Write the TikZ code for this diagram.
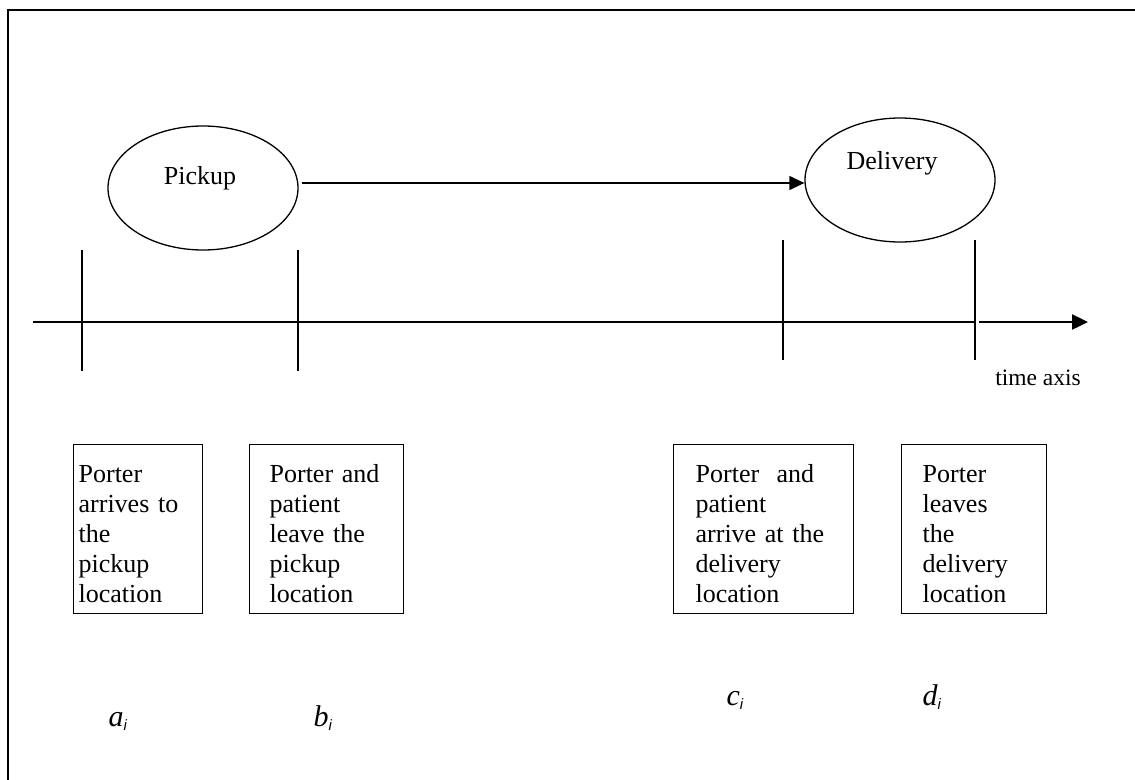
\documentclass[tikz,border=0pt]{standalone}
\usepackage{fontspec}
\setmainfont{Liberation Serif}
\newfontfamily\subfont{Liberation Sans}
\usetikzlibrary{arrows.meta,shapes.geometric}

% subscripted time label, e.g. a_i
\newcommand\eventmark[1]{#1\raisebox{-4pt}{\subfont\itshape\fontsize{15}{15}\selectfont i}}

\begin{document}
\begin{tikzpicture}[x=1pt,y=-1pt,line width=1.3pt,
  evt/.style={ellipse,draw,minimum width=190pt,minimum height=124pt,inner sep=0pt},
  evttext/.style={font=\fontsize{26}{30}\selectfont,inner sep=0pt},
  note/.style={draw,anchor=north west,align=left,inner ysep=0pt,
    text height=38pt,text depth=131pt,font=\fontsize{26}{30}\selectfont},
  flow/.style={-{Triangle[length=15pt,width=14pt]}},
  timearrow/.style={line width=2.4pt,-{Triangle[length=16pt,width=15pt]}},
  lbl/.style={font=\fontsize{30}{30}\selectfont\itshape,inner sep=0pt,anchor=base west},
  axislbl/.style={font=\fontsize{23.5}{28}\selectfont,inner sep=0pt}]

\useasboundingbox (0,0) rectangle (1135,779);
% outer frame, running past the right and bottom edges
\draw[line width=2pt] (8,10) rectangle (1250,900);

% the two events
\node[evt] (pickup) at (203,188) {};
\node[evttext] (pickupText) at (200,178) {Pickup};
\node[evt] (delivery) at (900,180) {};
\node[evttext] (deliveryText) at (892,163) {Delivery};
\coordinate (flowStart) at ([xshift=3pt,yshift=5pt]pickup.east);
\draw[flow] (flowStart) -- (delivery.west |- flowStart);

% time axis
\coordinate (axisStart) at (33,322);
\coordinate (axisEnd) at (975,322);
\coordinate (arrowStart) at (979,322);
\coordinate (arrowEnd) at (1088,322);
\draw (axisStart) -- (axisEnd);
\draw[timearrow] (arrowStart) -- (arrowEnd);
\node[axislbl] (axisText) at (1038,378) {time axis};

% ticks on the axis
\coordinate (aTop) at (82,250);  \coordinate (aBot) at (82,371);
\coordinate (bTop) at (298,250); \coordinate (bBot) at (298,371);
\coordinate (cTop) at (783,240); \coordinate (cBot) at (783,360);
\coordinate (dTop) at (975,240); \coordinate (dBot) at (975,360);
\draw (aTop) -- (aBot);
\draw (bTop) -- (bBot);
\draw (cTop) -- (cBot);
\draw (dTop) -- (dBot);

% descriptions
\node[note,inner xsep=5pt,text width=119pt] (noteA) at (73,444)
  {Porter\\arrives to\\the\\pickup\\location};
\node[note,inner xsep=20pt,text width=114pt] (noteB) at (249,444)
  {Porter and\\patient\\leave the\\pickup\\location};
\node[note,inner xsep=22pt,text width=136pt] (noteC) at (673,444)
  {Porter~ and\\patient\\arrive at the\\delivery\\location};
\node[note,inner xsep=21pt,text width=103pt] (noteD) at (901,444)
  {Porter\\leaves\\the\\delivery\\location};

% time labels
\node[lbl] (labelA) at (108,726) {\eventmark{a}};
\node[lbl] (labelB) at (313,726) {\eventmark{b}};
\node[lbl] (labelC) at (726,705) {\eventmark{c}};
\node[lbl] (labelD) at (922,705) {\eventmark{d}};
\end{tikzpicture}
\end{document}
